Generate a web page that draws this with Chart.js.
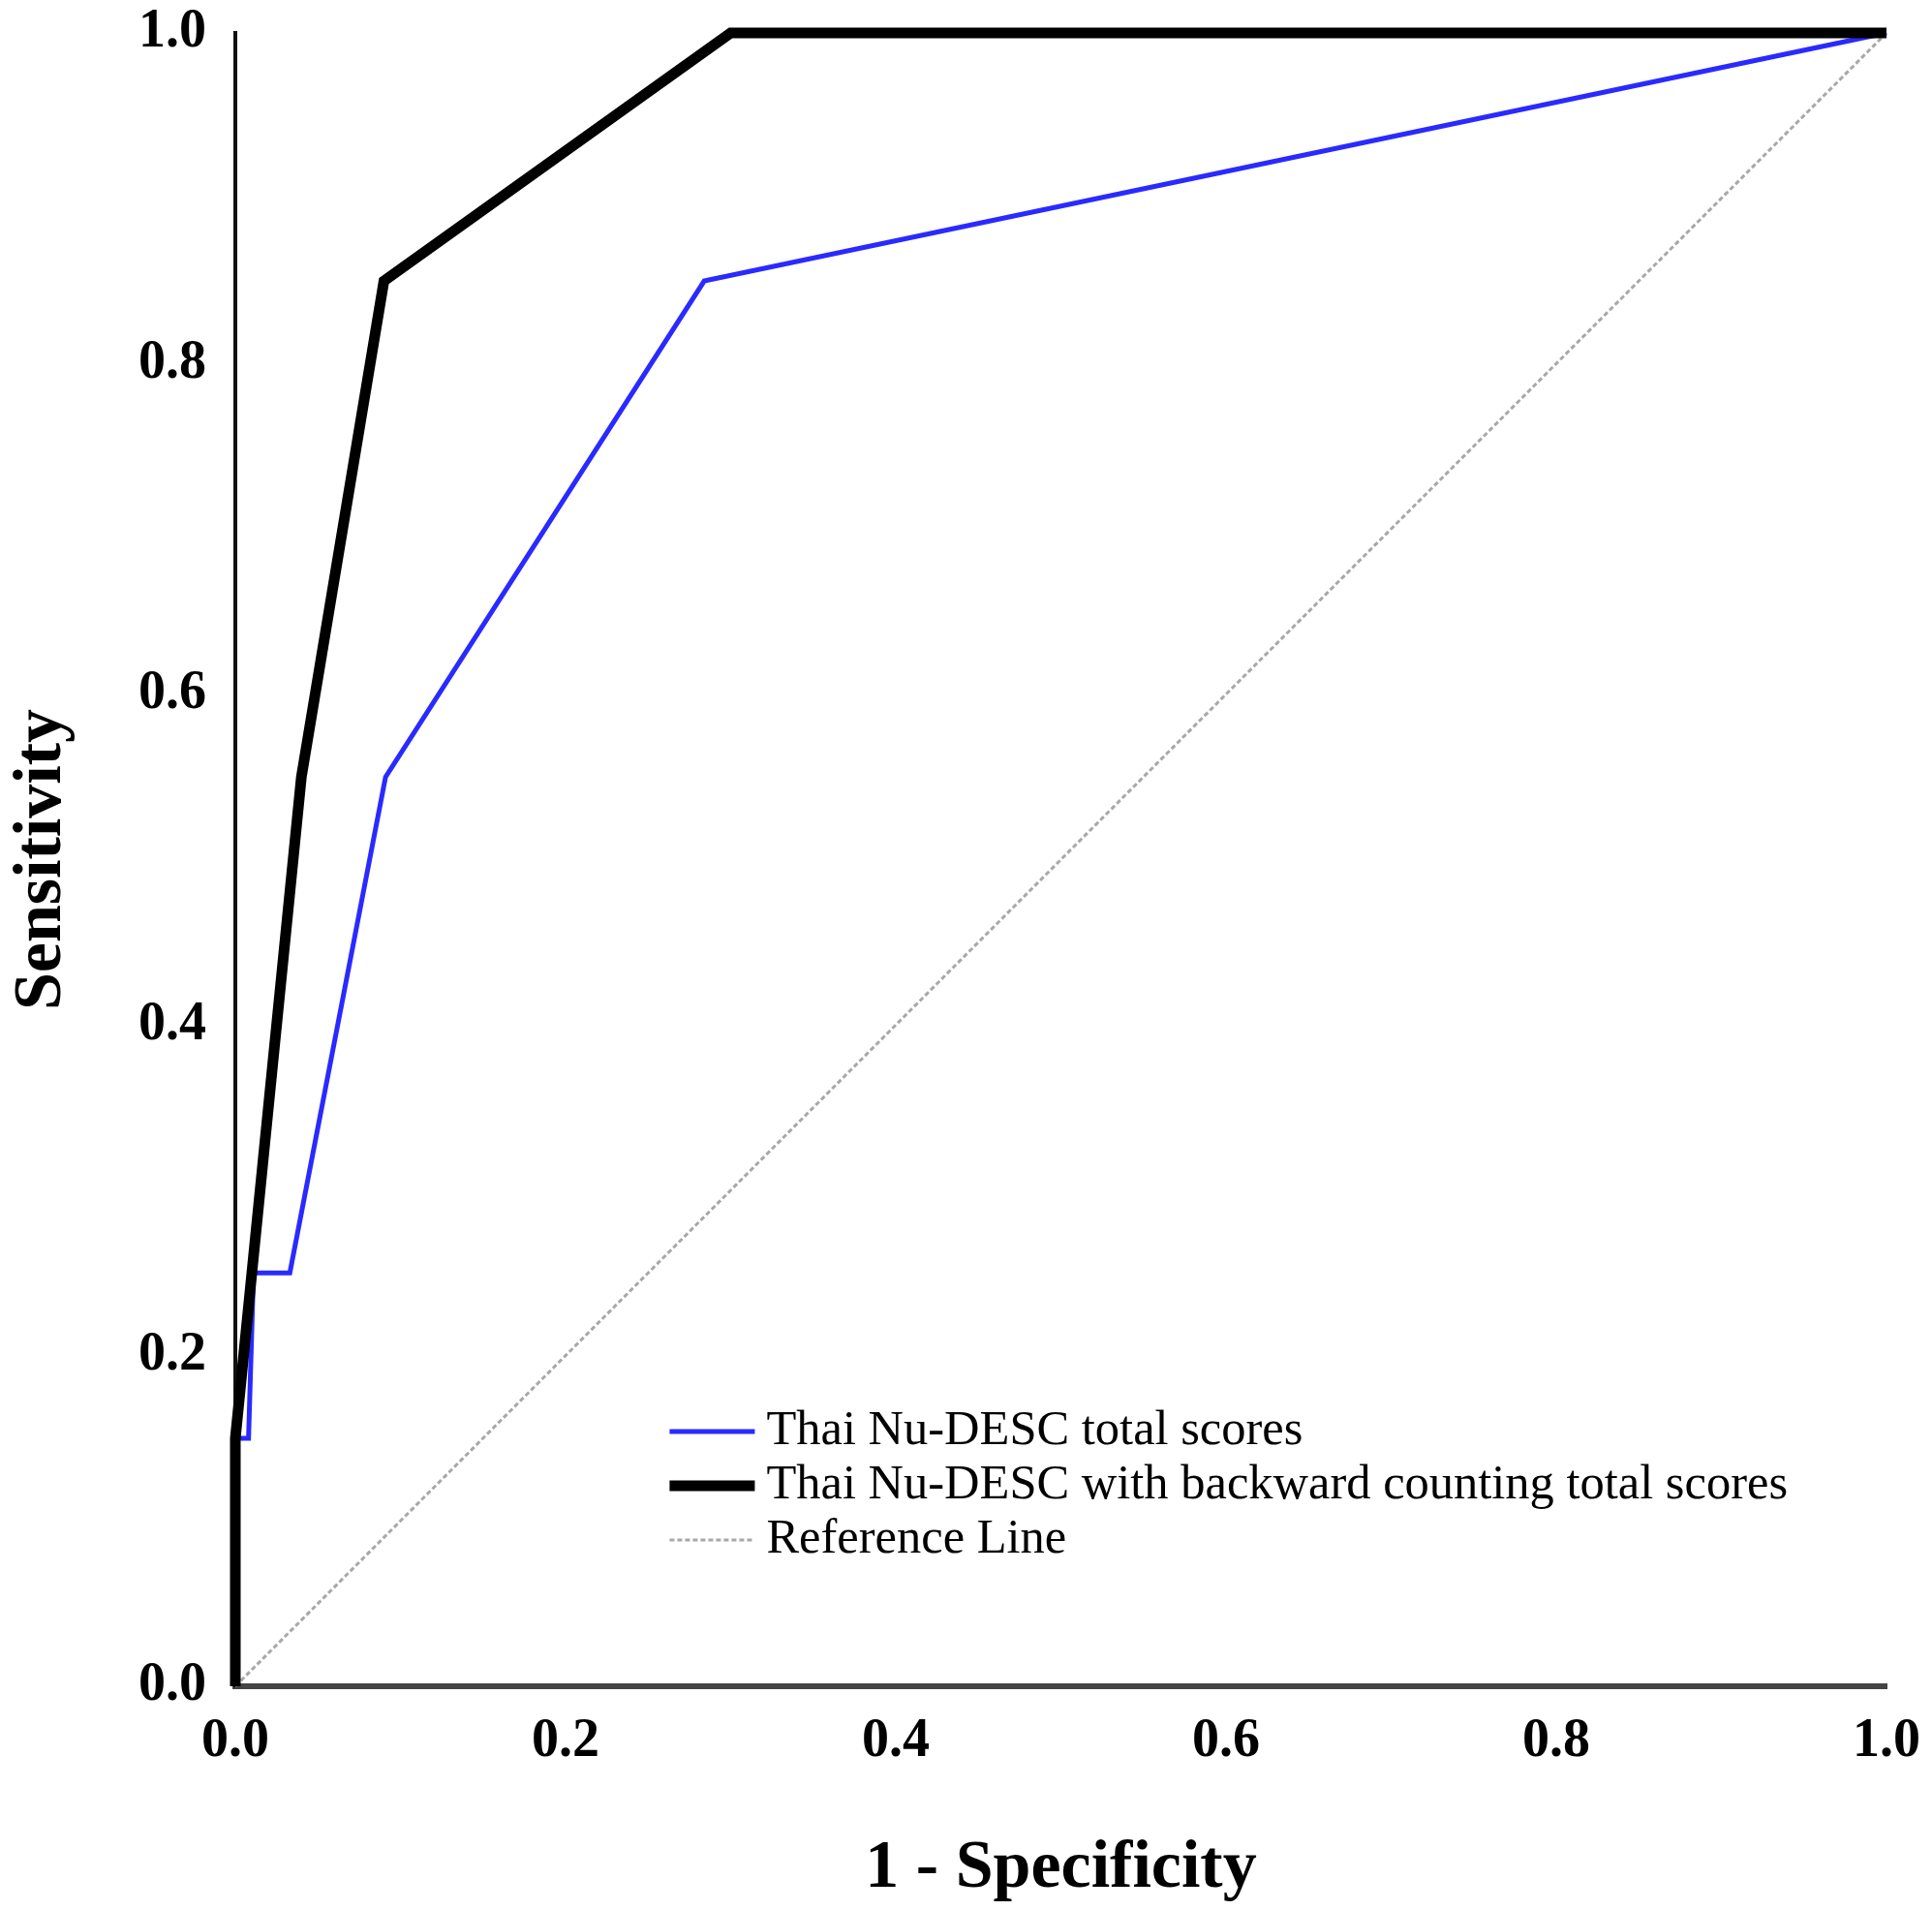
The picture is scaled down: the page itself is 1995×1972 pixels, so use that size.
<!DOCTYPE html>
<html>
<head>
<meta charset="utf-8">
<script src="https://cdn.jsdelivr.net/npm/chart.js@4/dist/chart.umd.min.js"></script>
<style>
  html, body { margin: 0; padding: 0; background: #fff; }
  canvas { display: block; }
</style>
</head>
<body>
<canvas id="roc" width="1995" height="1972"></canvas>
<script>
// ROC points (1 - specificity, sensitivity)
const nudescX = [0, 0, 0.008, 0.011, 0.033, 0.091, 0.284, 1.0];
const nudescY = [0, 0.15, 0.15, 0.25, 0.25, 0.55, 0.85, 1.0];

const backwardX = [0, 0, 0.04, 0.09, 0.30, 1.0];
const backwardY = [0, 0.15, 0.55, 0.85, 1.0, 1.0];

const refX = [0, 1];
const refY = [0, 1];

const seriesLabels = [
  'Thai Nu-DESC total scores',
  'Thai Nu-DESC with backward counting total scores',
  'Reference Line'
];

const tickValues = [0, 0.2, 0.4, 0.6, 0.8, 1.0];

const toPoints = (xs, ys) => xs.map((x, i) => ({ x: x, y: ys[i] }));

// legend drawn inside the plot, like the original figure
const insideLegend = {
  id: 'insideLegend',
  afterDatasetsDraw(chart) {
    const ctx = chart.ctx;
    const area = chart.chartArea;
    const w = area.right - area.left;
    const h = area.bottom - area.top;
    const left = area.left + w * 0.263;
    let y = area.top + h * 0.846;
    ctx.save();
    ctx.font = '50.5px "Liberation Serif", "Times New Roman", serif';
    ctx.textBaseline = 'middle';
    ctx.fillStyle = '#000';
    chart.data.datasets.forEach(ds => {
      ctx.beginPath();
      ctx.strokeStyle = ds.borderColor;
      ctx.lineWidth = ds.borderWidth;
      ctx.setLineDash(ds.borderDash || []);
      ctx.moveTo(left, y);
      ctx.lineTo(left + 88, y);
      ctx.stroke();
      ctx.setLineDash([]);
      ctx.fillText(ds.label, left + 100, y);
      y += 56;
    });
    ctx.restore();
  }
};

const tickFont = { family: '"Liberation Serif", "Times New Roman", serif', size: 56, weight: 'bold' };
const titleFont = { family: '"Liberation Serif", "Times New Roman", serif', size: 70, weight: 'bold' };

new Chart(document.getElementById('roc'), {
  type: 'scatter',
  data: {
    datasets: [
      {
        label: seriesLabels[0],
        data: toPoints(nudescX, nudescY),
        borderColor: '#2a2aff',
        borderWidth: 5,
        order: 1
      },
      {
        label: seriesLabels[1],
        data: toPoints(backwardX, backwardY),
        borderColor: '#000000',
        borderWidth: 11,
        order: 0
      },
      {
        label: seriesLabels[2],
        data: toPoints(refX, refY),
        borderColor: '#a8a8a8',
        borderWidth: 3,
        borderDash: [5, 3],
        order: 2
      }
    ]
  },
  options: {
    responsive: false,
    animation: false,
    devicePixelRatio: 1,
    showLine: true,
    clip: false,
    elements: {
      point: { radius: 0, hoverRadius: 0 },
      line: { tension: 0, borderCapStyle: 'butt' }
    },
    layout: { padding: 0 },
    plugins: {
      legend: { display: false },
      tooltip: { enabled: false }
    },
    scales: {
      x: {
        type: 'linear',
        min: 0,
        max: 1,
        afterBuildTicks: s => { s.ticks = tickValues.map(v => ({ value: v })); },
        afterFit: s => {
          s.height = 231;
          s.paddingLeft = 0;
          s.paddingRight = 47;
        },
        grid: { display: false, drawTicks: false },
        border: { display: true, color: '#444444', width: 6 },
        ticks: {
          padding: 24,
          color: '#000',
          font: tickFont,
          callback: v => v.toFixed(1)
        },
        title: {
          display: true,
          text: '1 - Specificity',
          color: '#000',
          font: titleFont,
          padding: 0
        }
      },
      y: {
        type: 'linear',
        min: 0,
        max: 1,
        afterBuildTicks: s => { s.ticks = tickValues.map(v => ({ value: v })); },
        afterFit: s => {
          s.width = 243;
          s.paddingTop = 34;
          s.paddingBottom = 0;
        },
        grid: { display: false, drawTicks: false },
        border: { display: true, color: '#111111', width: 4 },
        ticks: {
          padding: 30,
          color: '#000',
          font: tickFont,
          callback: v => v.toFixed(1)
        },
        title: {
          display: true,
          text: 'Sensitivity',
          color: '#000',
          font: titleFont,
          padding: { top: 2, bottom: 0 }
        }
      }
    }
  },
  plugins: [insideLegend]
});
</script>
</body>
</html>
